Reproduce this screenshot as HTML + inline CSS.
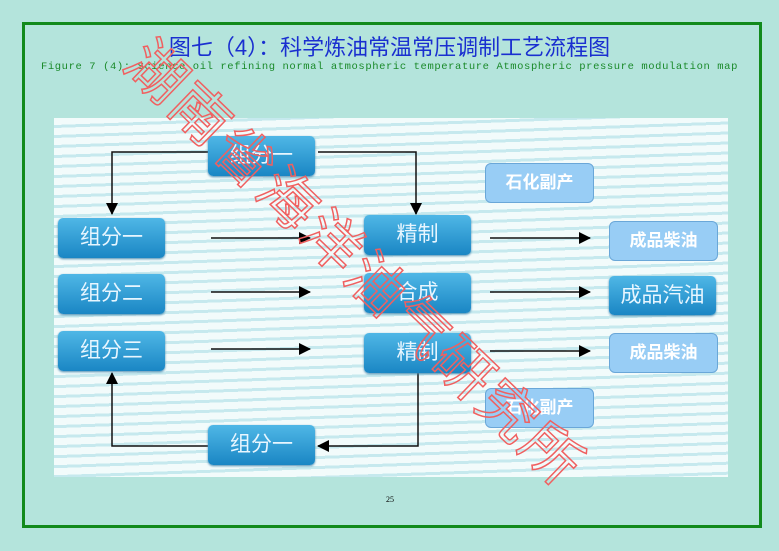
<!DOCTYPE html>
<html><head><meta charset="utf-8"><style>
body{margin:0;width:779px;height:551px;background:#b4e4dc;position:relative;overflow:hidden;font-family:"Liberation Sans","Noto Sans CJK SC",sans-serif}
.frame{position:absolute;left:22px;top:22px;width:734px;height:500px;border:3px solid #128a1c}
.t1{position:absolute;left:0;width:779px;top:30px;text-align:center;color:#1a2fd0;font-size:22px}
.t2{position:absolute;left:0;width:779px;top:61px;text-align:center;color:#1a8a2a;font-size:10.5px;font-family:"Liberation Mono",monospace;letter-spacing:0.6px}
.img{position:absolute;left:54px;top:118px;width:674px;height:359px;background:repeating-linear-gradient(178deg,#f2fbfb 0 7px,#c6e9ee 7px 10px)}
.b{position:absolute;width:107px;height:40px;border-radius:5px;background:linear-gradient(#4fb7e6,#1a86c4);color:#e8f6ff;font-size:21px;text-align:center;line-height:40px;box-shadow:0 1px 2px #4a8ab0}
.l{position:absolute;width:107px;height:38px;border-radius:6px;background:#98cdf5;border:1px solid #6aa7d8;color:#fff;font-size:17px;font-weight:bold;text-align:center;line-height:38px}
.wm{position:absolute;font-size:58px;color:transparent;-webkit-text-stroke:1.5px #f06060;transform:rotate(44deg);transform-origin:0 0;white-space:nowrap;letter-spacing:3px;left:168px;top:18px}
.pn{position:absolute;left:386px;top:495px;font-size:8px;font-family:"Liberation Serif",serif}
</style></head><body>
<div class="frame"></div>
<div class="t1">图七（4）：科学炼油常温常压调制工艺流程图</div>
<div class="t2">Figure 7 (4): Science oil refining normal atmospheric temperature Atmospheric pressure modulation map</div>
<div class="img"></div>
<svg style="position:absolute;left:0;top:0" width="779" height="551">
<defs><marker id="a" markerWidth="12" markerHeight="12" refX="11" refY="6" orient="auto" markerUnits="userSpaceOnUse"><path d="M0,0L12,6L0,12z" fill="#000"/></marker></defs>
<g stroke="#111" stroke-width="1.5" fill="none">
<polyline points="208,152 112,152 112,214" marker-end="url(#a)"/>
<polyline points="318,152 416,152 416,214" marker-end="url(#a)"/>
<polyline points="418,373 418,446 318,446" marker-end="url(#a)"/>
<polyline points="208,446 112,446 112,373" marker-end="url(#a)"/>
<line x1="211" y1="238" x2="310" y2="238" marker-end="url(#a)"/>
<line x1="211" y1="292" x2="310" y2="292" marker-end="url(#a)"/>
<line x1="211" y1="349" x2="310" y2="349" marker-end="url(#a)"/>
<line x1="490" y1="238" x2="590" y2="238" marker-end="url(#a)"/>
<line x1="490" y1="292" x2="590" y2="292" marker-end="url(#a)"/>
<line x1="490" y1="351" x2="590" y2="351" marker-end="url(#a)"/>
</g></svg>
<div class="b" style="left:208px;top:136px">组分一</div>
<div class="b" style="left:58px;top:218px">组分一</div>
<div class="b" style="left:58px;top:274px">组分二</div>
<div class="b" style="left:58px;top:331px">组分三</div>
<div class="b" style="left:364px;top:215px">精制</div>
<div class="b" style="left:364px;top:273px">合成</div>
<div class="b" style="left:364px;top:333px">精制</div>
<div class="b" style="left:208px;top:425px">组分一</div>
<div class="b" style="left:609px;top:276px;height:39px">成品汽油</div>
<div class="l" style="left:485px;top:163px">石化副产</div>
<div class="l" style="left:609px;top:221px">成品柴油</div>
<div class="l" style="left:609px;top:333px">成品柴油</div>
<div class="l" style="left:485px;top:388px">石化副产</div>
<div class="wm">湖南省海洋油气研究所</div>
<div class="pn">25</div>
</body></html>
